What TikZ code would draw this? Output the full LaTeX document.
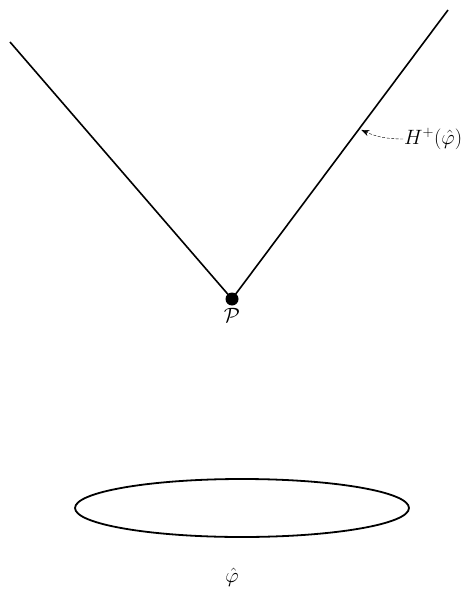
\documentclass[tikz,border=0pt]{standalone}
\usepackage{amsmath}
\usepackage{tikz}
\usetikzlibrary{positioning,arrows.meta,calc,shapes.geometric}
\tikzset{
  cone/.style={draw=black,line width=1.6pt},
  vertex/.style={circle,fill=black,inner sep=0pt,minimum size=13pt},
  rim/.style={draw=black,line width=1.8pt},
  lbl/.style={font=\huge,inner sep=1pt},
  pointer/.style={-{Stealth[length=2.8mm,width=2.2mm]},draw=black,thin,dash pattern=on 3pt off 1.5pt}}

\begin{document}
\begin{tikzpicture}[x=1pt,y=-1pt]
  \useasboundingbox (0,0) rectangle (465,596);
  % the cone from P
  \node[vertex] (P) at (232,299) {};
  \coordinate (tl) at (10,42);
  \coordinate (tr) at (448,10);
  \draw[cone] (tl) -- (P.center) -- (tr);
  \node[lbl,below=1pt of P] (Plbl) {$\mathcal{P}$};
  % label of the right edge
  \coordinate (hit) at ($(P.center)!0.585!(tr)$);
  \node[lbl,anchor=west] (H) at (403,139) {$H^{+}(\hat{\varphi})$};
  \draw[pointer] (H.west) to[bend left=12] ($(hit)+(3,0)$);
  % the set
  \node[rim,ellipse,minimum width=334pt,minimum height=58pt] (phi) at (242,508) {};
  \node[lbl,below=29pt of phi.south,xshift=-10pt] (philbl) {$\hat{\varphi}$};
\end{tikzpicture}
\end{document}
